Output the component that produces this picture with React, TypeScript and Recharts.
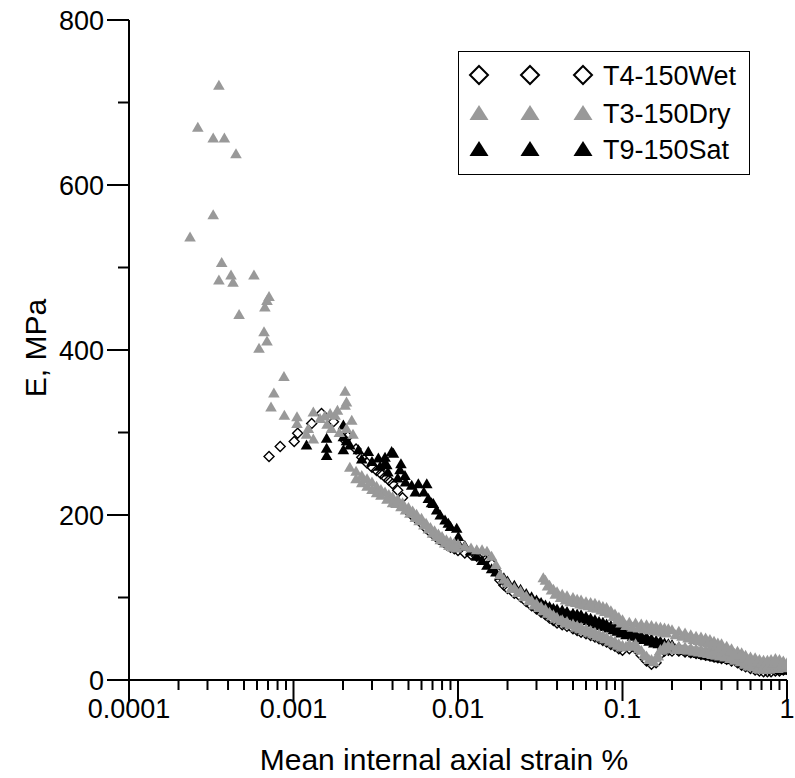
import React from 'react';
import { ScatterChart, Scatter, XAxis, YAxis, Legend } from 'recharts';

if (typeof document !== 'undefined') {
  document.body.style.margin = '0';
  document.body.style.overflow = 'hidden';
}

const FONT = '"Liberation Sans", Arial, Helvetica, sans-serif';
const GRAY = '#999999';
const BLACK = '#000000';

// ---- axes ----
const xMajorTicks = [0.0001, 0.001, 0.01, 0.1, 1];
const xTickLabels = ['0.0001', '0.001', '0.01', '0.1', '1'];
const xMinorTicks = [
  0.0002, 0.0003, 0.0004, 0.0005, 0.0006, 0.0007, 0.0008, 0.0009,
  0.002, 0.003, 0.004, 0.005, 0.006, 0.007, 0.008, 0.009,
  0.02, 0.03, 0.04, 0.05, 0.06, 0.07, 0.08, 0.09,
  0.2, 0.3, 0.4, 0.5, 0.6, 0.7, 0.8, 0.9,
];
const yMajorTicks = [0, 200, 400, 600, 800];
const yMinorTicks = [100, 300, 500, 700];
const xTitle = 'Mean internal axial strain %';
const yTitle = 'E, MPa';
const seriesNames = ['T4-150Wet', 'T3-150Dry', 'T9-150Sat'];

// ---- T4-150Wet (open diamonds) : [strain %, E MPa] ----
const wetScatter: [number, number][] = [
  [0.00071, 271], [0.00083, 283], [0.00101, 289], [0.00106, 299], [0.00129, 311],
  [0.00148, 323], [0.00175, 313], [0.00205, 291], [0.00214, 295], [0.0024, 280], [0.0026, 270],
];
const wetBand: [number, number][] = [
  [0.0028, 263], [0.003, 258], [0.0032, 254], [0.0034, 250], [0.0036, 246], [0.0038, 242],
  [0.004, 238], [0.0043, 230], [0.0046, 221], [0.005, 204], [0.0053, 199], [0.0056, 195],
  [0.006, 190], [0.0064, 184], [0.0068, 179], [0.0072, 175], [0.0076, 171], [0.008, 168],
  [0.0085, 164], [0.009, 161], [0.0095, 159], [0.01, 157], [0.011, 154], [0.012, 152],
  [0.013, 150], [0.014, 149], [0.015, 147], [0.016, 141], [0.017, 132], [0.018, 121],
  [0.019, 115], [0.02, 111], [0.022, 105], [0.024, 101], [0.026, 95], [0.028, 90],
  [0.03, 86], [0.032, 82], [0.034, 79], [0.036, 75], [0.038, 72], [0.04, 69],
  [0.043, 67], [0.046, 65], [0.05, 62], [0.053, 60], [0.056, 58], [0.06, 56],
  [0.064, 54], [0.068, 52], [0.072, 50], [0.076, 48], [0.08, 46], [0.085, 43],
  [0.09, 41], [0.095, 38], [0.1, 36], [0.11, 38], [0.12, 38], [0.13, 30],
  [0.14, 23], [0.15, 19], [0.16, 21], [0.17, 31], [0.18, 35], [0.19, 36],
  [0.2, 35], [0.22, 35], [0.24, 34], [0.26, 33], [0.28, 32], [0.3, 31],
  [0.32, 30], [0.34, 29], [0.36, 28], [0.38, 27], [0.4, 26], [0.43, 25],
  [0.46, 23], [0.5, 21], [0.53, 18], [0.56, 16], [0.6, 14], [0.64, 12],
  [0.68, 11], [0.72, 10], [0.76, 10], [0.8, 10], [0.85, 11], [0.9, 11], [0.95, 12], [1.0, 13],
];

// ---- T3-150Dry (grey triangles) ----
const dryScatter: [number, number][] = [
  [0.000235, 537], [0.000262, 670], [0.000325, 657], [0.00038, 657], [0.000352, 721],
  [0.000447, 638], [0.000325, 564], [0.000366, 506], [0.000352, 485], [0.000417, 491],
  [0.000429, 482], [0.000575, 491], [0.00071, 465], [0.00069, 460], [0.00067, 452],
  [0.000467, 443], [0.000662, 422], [0.00069, 411], [0.000617, 402], [0.000875, 368],
  [0.00076, 348], [0.00073, 331], [0.00088, 321], [0.00105, 319], [0.00105, 311],
  [0.00132, 325], [0.00132, 292], [0.00123, 305], [0.00145, 317], [0.00167, 323],
  [0.00206, 350], [0.0021, 337], [0.00206, 333], [0.00179, 321], [0.0017, 305],
  [0.00226, 315], [0.0012, 298], [0.0016, 310], [0.0019, 300], [0.0021, 305],
  [0.0023, 298], [0.00185, 327], [0.00155, 320],
];
const dryBand: [number, number][] = [
  [0.0022, 258], [0.0024, 253], [0.0026, 248], [0.0028, 244], [0.003, 240], [0.0032, 235],
  [0.0034, 231], [0.0036, 228], [0.0038, 225], [0.004, 222], [0.0043, 219], [0.0046, 215],
  [0.005, 209], [0.0053, 205], [0.0056, 201], [0.006, 196], [0.0064, 190], [0.0068, 185],
  [0.0072, 181], [0.0076, 177], [0.008, 174], [0.0085, 170], [0.009, 168], [0.0095, 166],
  [0.01, 165], [0.011, 162], [0.012, 160], [0.013, 158], [0.014, 158], [0.015, 156],
  [0.016, 150], [0.017, 140], [0.018, 128], [0.019, 122], [0.02, 118], [0.022, 112],
  [0.024, 108], [0.026, 102], [0.028, 97], [0.03, 93], [0.032, 89], [0.034, 86],
  [0.036, 82], [0.038, 79], [0.04, 76], [0.043, 73], [0.046, 71], [0.05, 68],
  [0.053, 66], [0.056, 64], [0.06, 62], [0.064, 60], [0.068, 58], [0.072, 56],
  [0.076, 54], [0.08, 52], [0.085, 49], [0.09, 47], [0.095, 44], [0.1, 42],
  [0.11, 44], [0.12, 44], [0.13, 36], [0.14, 29], [0.15, 25], [0.16, 27],
  [0.17, 37], [0.18, 41], [0.19, 42], [0.2, 41], [0.22, 41], [0.24, 40],
  [0.26, 39], [0.28, 38], [0.3, 37], [0.32, 36], [0.34, 35], [0.36, 34],
  [0.38, 33], [0.4, 32], [0.43, 31], [0.46, 29], [0.5, 27], [0.53, 24],
  [0.56, 22], [0.6, 20], [0.64, 18], [0.68, 17], [0.72, 16], [0.76, 16],
  [0.8, 16], [0.85, 17], [0.9, 17], [0.95, 18], [1.0, 19],
];
const dryBandLower: [number, number][] = [
  [0.0024, 244], [0.0026, 239], [0.0028, 235], [0.003, 231], [0.0032, 227],
  [0.0034, 224], [0.0037, 219], [0.004, 215], [0.0042, 214], [0.0045, 210],
  [0.0048, 206], [0.0051, 202], [0.0055, 197], [0.0058, 193], [0.0062, 188],
  [0.0066, 183], [0.007, 178], [0.0074, 174], [0.0078, 170], [0.0083, 166],
  [0.0088, 163], [0.0093, 161], [0.0098, 160],
];
const dryBandLower2: [number, number][] = [
  [0.021, 111], [0.023, 106], [0.025, 101], [0.027, 96], [0.029, 91], [0.031, 88],
  [0.033, 84], [0.035, 81], [0.037, 78], [0.039, 75], [0.042, 72], [0.045, 69],
  [0.048, 67], [0.052, 64], [0.055, 62], [0.058, 60], [0.062, 58], [0.066, 56],
  [0.07, 54], [0.074, 52], [0.078, 50], [0.083, 47], [0.088, 45], [0.093, 42],
  [0.098, 40], [0.105, 41], [0.115, 41], [0.125, 38], [0.135, 31], [0.145, 25],
  [0.155, 22], [0.165, 29], [0.175, 36], [0.185, 38], [0.21, 37], [0.23, 37],
  [0.25, 36], [0.27, 35], [0.29, 34], [0.31, 33], [0.33, 32], [0.35, 31],
  [0.37, 30], [0.39, 29], [0.42, 28], [0.45, 26], [0.48, 24], [0.52, 22],
  [0.55, 19], [0.58, 17], [0.62, 16], [0.66, 14], [0.7, 13], [0.74, 13],
  [0.78, 13], [0.83, 14], [0.88, 14], [0.93, 15], [0.98, 16],
];
const dryUpper: [number, number][] = [
  [0.033, 124], [0.034, 121], [0.036, 115], [0.038, 110], [0.04, 107], [0.043, 104],
  [0.046, 102], [0.05, 100], [0.053, 98], [0.056, 97], [0.06, 95], [0.064, 94],
  [0.068, 93], [0.072, 91], [0.076, 89], [0.08, 88], [0.085, 84], [0.09, 80],
  [0.095, 76], [0.1, 73], [0.11, 70], [0.12, 69], [0.13, 68], [0.14, 67],
  [0.15, 66], [0.16, 65], [0.17, 64], [0.18, 63], [0.19, 62], [0.2, 61],
  [0.22, 59], [0.24, 57], [0.26, 55], [0.28, 53], [0.3, 52], [0.32, 51],
  [0.34, 49], [0.36, 47], [0.38, 45], [0.4, 44], [0.43, 41], [0.46, 38],
  [0.5, 35], [0.53, 33], [0.56, 30], [0.6, 28], [0.64, 27], [0.68, 25],
  [0.72, 24], [0.76, 24], [0.8, 25], [0.85, 26], [0.9, 25], [0.95, 23], [1.0, 21],
];
const dryUpperLower: [number, number][] = [
  [0.035, 114], [0.037, 109], [0.039, 104], [0.042, 100], [0.045, 97], [0.048, 95],
  [0.052, 94], [0.055, 92], [0.058, 91], [0.062, 90], [0.066, 88], [0.07, 87],
  [0.074, 85], [0.078, 83], [0.083, 81], [0.088, 77], [0.093, 73], [0.098, 69],
  [0.105, 66], [0.115, 64], [0.125, 63], [0.135, 62], [0.145, 61], [0.155, 60],
  [0.165, 59], [0.175, 58], [0.185, 57], [0.21, 55], [0.23, 53], [0.25, 51],
  [0.27, 49], [0.29, 48], [0.31, 46], [0.33, 45], [0.35, 43], [0.37, 41],
  [0.39, 40], [0.42, 37], [0.45, 35], [0.48, 32], [0.52, 30], [0.55, 27],
  [0.58, 25], [0.62, 23], [0.66, 22], [0.7, 21], [0.74, 20], [0.78, 20],
  [0.83, 21], [0.88, 21], [0.93, 20], [0.98, 18],
];

// ---- T9-150Sat (black triangles) ----
const satScatter: [number, number][] = [
  [0.0012, 285], [0.00159, 293], [0.00159, 281], [0.00159, 272], [0.00201, 309],
  [0.00201, 295], [0.00201, 279], [0.0021, 290], [0.0022, 285], [0.00248, 279],
  [0.0026, 268], [0.00285, 277], [0.003, 265], [0.00328, 269], [0.00336, 259],
  [0.0036, 263], [0.00369, 261], [0.00375, 252], [0.00395, 277], [0.00405, 275],
  [0.0036, 270], [0.00444, 255], [0.0045, 262], [0.0043, 245], [0.00476, 248],
  [0.0048, 240], [0.00523, 236], [0.0055, 228], [0.00574, 238], [0.0062, 228],
  [0.00646, 238], [0.0066, 220], [0.0069, 215], [0.00708, 214], [0.00742, 206],
  [0.0078, 200], [0.00834, 194], [0.00873, 190], [0.009, 186], [0.00982, 184],
  [0.01005, 174], [0.0103, 162],
];
const satBand: [number, number][] = [
  [0.011, 163], [0.012, 156], [0.013, 150], [0.014, 145], [0.015, 139], [0.016, 135],
  [0.017, 131], [0.018, 127], [0.019, 124], [0.02, 120], [0.022, 115], [0.024, 110],
  [0.026, 105], [0.028, 101], [0.03, 97], [0.032, 94], [0.034, 91], [0.036, 89],
  [0.038, 87], [0.04, 86], [0.043, 85], [0.046, 83], [0.05, 81], [0.053, 80],
  [0.056, 79], [0.06, 77], [0.064, 75], [0.068, 73], [0.072, 71], [0.076, 70],
  [0.08, 68], [0.085, 66], [0.09, 64], [0.095, 62], [0.1, 61], [0.11, 58],
  [0.12, 56], [0.13, 54], [0.14, 52], [0.15, 50], [0.16, 48], [0.17, 47],
  [0.18, 45], [0.19, 44], [0.2, 43], [0.22, 40], [0.24, 38], [0.26, 36],
  [0.28, 35], [0.3, 33], [0.32, 32], [0.34, 31], [0.36, 30], [0.38, 29],
  [0.4, 28], [0.43, 27], [0.46, 26], [0.5, 24], [0.53, 23], [0.56, 22],
  [0.6, 20], [0.64, 19], [0.68, 18], [0.72, 17], [0.76, 16], [0.8, 15],
  [0.85, 15], [0.9, 14], [0.95, 13], [1.0, 14],
];
const satBandLower: [number, number][] = [
  [0.031, 93], [0.033, 90], [0.035, 87], [0.037, 85], [0.039, 83], [0.042, 81],
  [0.045, 80], [0.048, 78], [0.052, 76], [0.055, 75], [0.058, 74], [0.062, 72],
  [0.066, 70], [0.07, 68], [0.074, 66], [0.078, 65], [0.083, 63], [0.088, 61],
  [0.093, 59], [0.098, 57], [0.105, 55], [0.115, 53], [0.125, 51], [0.135, 49],
  [0.145, 47], [0.155, 45], [0.165, 44], [0.175, 42], [0.185, 41], [0.21, 38],
  [0.23, 36], [0.25, 35], [0.27, 33], [0.29, 32], [0.31, 31], [0.33, 30],
  [0.35, 29], [0.37, 28], [0.39, 27], [0.42, 26], [0.45, 25], [0.48, 24],
  [0.52, 22], [0.55, 21], [0.58, 20], [0.62, 18], [0.66, 17], [0.7, 16],
  [0.74, 15], [0.78, 14], [0.83, 13], [0.88, 12], [0.93, 12], [0.98, 12],
];

const toPoints = (arr: [number, number][]) => arr.map(([strain, e]) => ({ strain, e }));
const wetData = toPoints([...wetScatter, ...wetBand]);
const dryData = toPoints([...dryScatter, ...dryBand, ...dryBandLower, ...dryBandLower2, ...dryUpper, ...dryUpperLower]);
const satData = toPoints([...satScatter, ...satBand, ...satBandLower]);

// ---- marker shapes ----
const Diamond = (props: any) => {
  const { cx, cy } = props;
  if (cx == null || cy == null) return <g />;
  const r = 5;
  return (
    <path
      d={`M${cx},${cy - r}L${cx + r},${cy}L${cx},${cy + r}L${cx - r},${cy}Z`}
      fill="none"
      stroke={BLACK}
      strokeWidth={1.4}
    />
  );
};
const makeTriangle = (color: string) => (props: any) => {
  const { cx, cy } = props;
  if (cx == null || cy == null) return <g />;
  return (
    <path
      d={`M${cx},${cy - 5.5}L${cx + 5.8},${cy + 4.5}L${cx - 5.8},${cy + 4.5}Z`}
      fill={color}
      stroke="none"
    />
  );
};
const GrayTriangle = makeTriangle(GRAY);
const BlackTriangle = makeTriangle(BLACK);

// ---- ticks ----
const XTick = (props: any) => {
  const { x, y, payload } = props;
  const idx = xMajorTicks.indexOf(payload.value);
  const major = idx >= 0;
  return (
    <g>
      <line x1={x} x2={x} y1={y} y2={y + (major ? 21 : 10)} stroke={BLACK} strokeWidth={2} />
      {major && (
        <text x={x} y={y + 38} textAnchor="middle" fontSize={27} fontFamily={FONT} fill={BLACK}>
          {xTickLabels[idx]}
        </text>
      )}
    </g>
  );
};
const YTick = (props: any) => {
  const { x, y, payload } = props;
  const major = yMajorTicks.includes(payload.value);
  return (
    <g>
      <line x1={x - (major ? 22 : 11)} x2={x} y1={y} y2={y} stroke={BLACK} strokeWidth={2} />
      {major && (
        <text x={x - 25} y={y + 10} textAnchor="end" fontSize={27} fontFamily={FONT} fill={BLACK}>
          {payload.value}
        </text>
      )}
    </g>
  );
};

const XTitle = (props: any) => {
  const vb = props.viewBox || { x: 129, y: 680, width: 658, height: 98 };
  return (
    <text x={vb.x + vb.width / 2 - 14} y={vb.y + vb.height - 8} textAnchor="middle" fontSize={30} fontFamily={FONT} fill={BLACK}>
      {xTitle}
    </text>
  );
};
const YTitle = (props: any) => {
  const vb = props.viewBox || { x: 0, y: 20, width: 129, height: 660 };
  const cx = vb.x + 35;
  const cy = vb.y + vb.height / 2 - 2;
  return (
    <text x={cx} y={cy} textAnchor="middle" dominantBaseline="central" transform={`rotate(-90 ${cx} ${cy})`} fontSize={30} fontFamily={FONT} fill={BLACK}>
      {yTitle}
    </text>
  );
};

// ---- legend ----
const LegendBox = () => {
  const rows = [23, 61, 97];
  const cols = [20, 71, 124];
  return (
    <div style={{ width: 292, height: 124, border: '1px solid #000', boxSizing: 'border-box', background: '#fff' }}>
      <svg width={290} height={122} style={{ display: 'block' }}>
        {seriesNames.map((name, i) => (
          <g key={name}>
            {cols.map((cx) =>
              i === 0 ? (
                <path key={cx} d={`M${cx},${rows[i] - 9}L${cx + 9},${rows[i]}L${cx},${rows[i] + 9}L${cx - 9},${rows[i]}Z`} fill="none" stroke={BLACK} strokeWidth={2} />
              ) : (
                <path key={cx} d={`M${cx},${rows[i] - 8}L${cx + 9.5},${rows[i] + 7}L${cx - 9.5},${rows[i] + 7}Z`} fill={i === 1 ? GRAY : BLACK} />
              )
            )}
            <text x={144} y={rows[i] + 10} fontSize={27} fontFamily={FONT} fill={BLACK}>
              {name}
            </text>
          </g>
        ))}
      </svg>
    </div>
  );
};

export default function App() {
  return (
    <ScatterChart width={795} height={778} margin={{ top: 20, right: 8, bottom: 0, left: 0 }}>
      <XAxis
        dataKey="strain"
        type="number"
        scale="log"
        domain={[0.0001, 1]}
        allowDataOverflow
        ticks={[...xMajorTicks, ...xMinorTicks]}
        interval={0}
        tickSize={0}
        tickMargin={0}
        tickLine={false}
        tick={(p: any) => <XTick {...p} />}
        axisLine={{ stroke: BLACK, strokeWidth: 2 }}
        height={98}
        label={(p: any) => <XTitle {...p} />}
      />
      <YAxis
        dataKey="e"
        type="number"
        domain={[0, 800]}
        allowDataOverflow
        ticks={[...yMajorTicks, ...yMinorTicks]}
        interval={0}
        tickSize={0}
        tickMargin={0}
        tickLine={false}
        tick={(p: any) => <YTick {...p} />}
        axisLine={{ stroke: BLACK, strokeWidth: 2 }}
        width={129}
        label={(p: any) => <YTitle {...p} />}
      />
      <Legend
        layout="vertical"
        align="center"
        verticalAlign="middle"
        wrapperStyle={{ left: 458, top: 51, width: 292, height: 124 }}
        content={() => <LegendBox />}
      />
      <Scatter name={seriesNames[0]} data={wetData} shape={Diamond} isAnimationActive={false} />
      <Scatter name={seriesNames[2]} data={satData} shape={BlackTriangle} isAnimationActive={false} />
      <Scatter name={seriesNames[1]} data={dryData} shape={GrayTriangle} isAnimationActive={false} />
    </ScatterChart>
  );
}
